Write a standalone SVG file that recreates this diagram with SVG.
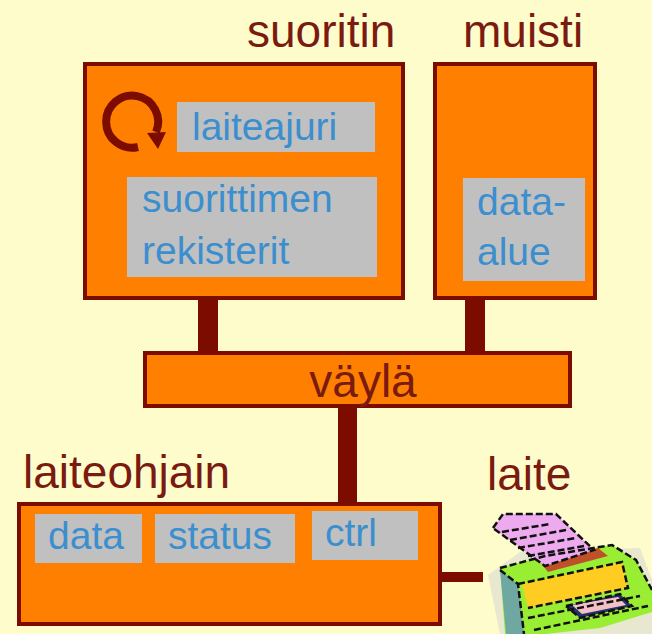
<svg xmlns="http://www.w3.org/2000/svg" width="652" height="634" viewBox="0 0 652 634">
  <style>
    .box { fill: #ff8000; stroke: #7d0c00; stroke-width: 4; }
    .reg { fill: #c0c0c0; }
    .title { font-family: "Liberation Sans", Arial, sans-serif; font-size: 46px; fill: #7a1a10; }
    .inner { font-family: "Liberation Sans", Arial, sans-serif; font-size: 39px; fill: #3b8fcf; }
    .wire { fill: #7d0c00; }
    .dash { fill: none; stroke: #111; stroke-width: 2.5; stroke-dasharray: 7 3; }
  </style>
  <rect width="652" height="634" fill="#fffccc"/>

  <!-- bus wiring -->
  <g id="connectors">
    <rect class="wire" x="198" y="298" width="20" height="55"/>
    <rect class="wire" x="465" y="298" width="20" height="55"/>
    <rect class="wire" x="338" y="406" width="19" height="98"/>
    <rect class="wire" x="440" y="572" width="43" height="10"/>
  </g>

  <!-- CPU -->
  <g id="suoritin">
    <text class="title" x="247" y="47">suoritin</text>
    <rect class="box" x="85" y="64" width="318" height="234"/>
    <path d="M138 147 A26 26 0 1 1 156 132" fill="none" stroke="#7d0c00" stroke-width="8"/>
    <polygon points="147,133 166,132 158,149" fill="#7d0c00"/>
    <rect class="reg" x="177" y="102" width="198" height="50"/>
    <text class="inner" x="192" y="140">laiteajuri</text>
    <rect class="reg" x="127" y="177" width="250" height="100"/>
    <text class="inner" x="142" y="212">suorittimen</text>
    <text class="inner" x="142" y="264">rekisterit</text>
  </g>

  <!-- memory -->
  <g id="muisti">
    <text class="title" x="463" y="47">muisti</text>
    <rect class="box" x="435" y="64" width="160" height="234"/>
    <rect class="reg" x="463" y="178" width="122" height="103"/>
    <text class="inner" x="477" y="215">data-</text>
    <text class="inner" x="477" y="265">alue</text>
  </g>

  <!-- bus -->
  <g id="vayla">
    <rect class="box" x="145" y="353" width="425" height="53"/>
    <text class="title" x="363" y="397" text-anchor="middle" font-size="45">väylä</text>
  </g>

  <!-- device controller -->
  <g id="laiteohjain">
    <text class="title" x="23" y="488">laiteohjain</text>
    <rect class="box" x="19" y="504" width="421" height="120"/>
    <rect class="reg" x="35" y="514" width="107" height="49"/>
    <text class="inner" x="48" y="549">data</text>
    <rect class="reg" x="155" y="514" width="140" height="49"/>
    <text class="inner" x="168" y="549">status</text>
    <rect class="reg" x="312" y="511" width="106" height="49"/>
    <text class="inner" x="325" y="546">ctrl</text>
  </g>

  <!-- device: printer -->
  <g id="laite">
    <text class="title" x="487" y="490">laite</text>
    <!-- soft shadow -->
    <polygon points="488,575 520,552 640,548 652,580 652,634 500,634" fill="#d8d8d0" opacity="0.6"/>
    <!-- body -->
    <polygon points="500,568 545,556 612,545 636,560 652,590 652,612 600,628 545,634 505,634" fill="#99ee33"/>
    <!-- left side panel -->
    <polygon points="500,570 518,584 524,634 506,634" fill="#6fa8a0"/>
    <!-- yellow front band -->
    <polygon points="522,584 622,562 628,588 528,608" fill="#ffcc22"/>
    <!-- output tray -->
    <polygon points="566,606 620,594 632,606 580,618" fill="#223366"/>
    <polygon points="572,605 618,597 626,605 582,614" fill="#f4c0c8"/>
    <!-- paper feed slot -->
    <polygon points="540,562 598,548 608,556 548,572" fill="#c0502a"/>
    <!-- paper -->
    <polygon points="493,528 503,514 556,514 594,550 545,566" fill="#eeaaee"/>
    <!-- outlines -->
    <polyline class="dash" points="493,528 503,514 556,514 594,550 545,566 493,528"/>
    <polyline class="dash" points="502,532 550,524"/>
    <polyline class="dash" points="510,540 566,530"/>
    <polyline class="dash" points="518,548 576,538"/>
    <polyline class="dash" points="528,556 584,546"/>
    <polyline class="dash" points="500,568 545,556 612,545 636,560 652,590"/>
    <polyline class="dash" points="500,570 518,584 524,634"/>
    <polyline class="dash" points="518,584 622,562 628,588 528,608"/>
    <polyline class="dash" points="528,618 640,596"/>
    <polyline class="dash" points="566,606 620,594 632,606 580,618 566,606"/>
    <polyline class="dash" points="534,630 648,606"/>
  </g>
</svg>
